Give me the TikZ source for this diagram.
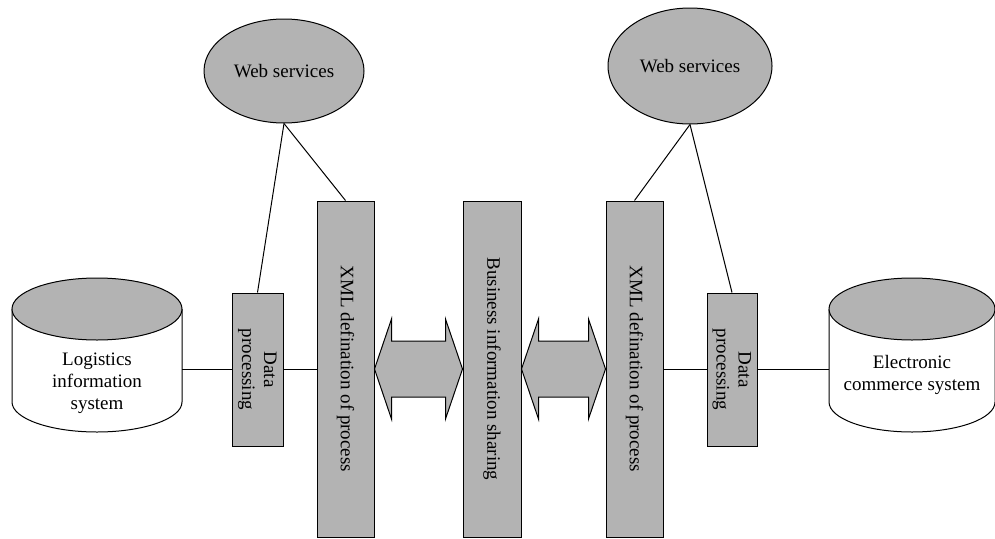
\documentclass[tikz,border=0pt]{standalone}
\usepackage{fontspec}
\setmainfont{Liberation Serif}
\usetikzlibrary{shapes.geometric,calc}
\definecolor{boxgray}{RGB}{179,179,179}

\begin{document}
\begin{tikzpicture}[x=1pt,y=-1pt]
		\tikzstyle {box} = [draw, line width=1pt, fill=boxgray, inner sep=0pt, font=\fontsize{19}{22}\selectfont]
		\tikzstyle {service} = [ellipse, draw, line width=1pt, fill=boxgray, inner sep=0pt, font=\fontsize{19}{22}\selectfont]
		\tikzstyle {dbtext} = [align=center, inner sep=0pt, minimum width=170pt, font=\fontsize{19}{22}\selectfont]
		\tikzstyle {link} = [line width=1pt]
		\tikzstyle {exchange} = [draw, line width=1pt, fill=boxgray, line join=miter]

		\useasboundingbox (0,0) rectangle (995,538);

		\draw[line width=1pt, fill=white] (12,309) -- (12,402) arc[start angle=180, end angle=0, x radius=85, y radius=30] -- (182,309);
		\draw[line width=1pt, fill=boxgray] (97,309) ellipse[x radius=85, y radius=31];
		\node[dbtext] (lis) at (97,383) {Logistics\\information\\system};

		\draw[line width=1pt, fill=white] (829,309) -- (829,402) arc[start angle=180, end angle=0, x radius=83, y radius=30] -- (995,309);
		\draw[line width=1pt, fill=boxgray] (912,309) ellipse[x radius=83, y radius=31];
		\node[dbtext, minimum width=166pt] (ecs) at (912,375) {Electronic\\commerce system};

		\node[service, minimum width=160pt, minimum height=104pt] (wsL) at (284,71) {Web services};
		\node[service, minimum width=164pt, minimum height=116pt] (wsR) at (690,66) {Web services};

		\node[box, minimum width=51pt, minimum height=153pt] (dpL) at (257.5,369.5) {\rotatebox{-90}{\begin{tabular}{@{}c@{}}Data\\processing\end{tabular}}};
		\node[box, minimum width=57pt, minimum height=336pt] (xmlL) at (345.5,369) {\rotatebox{-90}{XML defination of process}};
		\node[box, minimum width=58pt, minimum height=336pt] (bis) at (492,369) {\rotatebox{-90}{Business information sharing}};
		\node[box, minimum width=57pt, minimum height=336pt] (xmlR) at (634.5,369) {\rotatebox{-90}{XML defination of process}};
		\node[box, minimum width=50pt, minimum height=153pt] (dpR) at (732,369.5) {\rotatebox{-90}{\begin{tabular}{@{}c@{}}Data\\processing\end{tabular}}};

		\draw[link] (wsL.south) -- (dpL.north);
		\draw[link] (wsL.south) -- (xmlL.north);
		\draw[link] (wsR.south) -- (xmlR.north);
		\draw[link] (wsR.south) -- (dpR.north);

		\draw[link] (lis.east |- dpL.west) -- (dpL.west);
		\draw[link] (dpL.east) -- (xmlL.west |- dpL.east);
		\draw[link] (xmlR.east |- dpR.west) -- (dpR.west);
		\draw[link] (dpR.east) -- (ecs.west |- dpR.east);

		\draw[exchange] (xmlL.east) -- ([shift={(17,-50)}]xmlL.east) -- ([shift={(17,-28)}]xmlL.east) -- ([shift={(-17,-28)}]bis.west) -- ([shift={(-17,-50)}]bis.west) -- (bis.west) -- ([shift={(-17,50)}]bis.west) -- ([shift={(-17,28)}]bis.west) -- ([shift={(17,28)}]xmlL.east) -- ([shift={(17,50)}]xmlL.east) -- cycle;
		\draw[exchange] (bis.east) -- ([shift={(17,-50)}]bis.east) -- ([shift={(17,-28)}]bis.east) -- ([shift={(-17,-28)}]xmlR.west) -- ([shift={(-17,-50)}]xmlR.west) -- (xmlR.west) -- ([shift={(-17,50)}]xmlR.west) -- ([shift={(-17,28)}]xmlR.west) -- ([shift={(17,28)}]bis.east) -- ([shift={(17,50)}]bis.east) -- cycle;
	\end{tikzpicture}
\end{document}
